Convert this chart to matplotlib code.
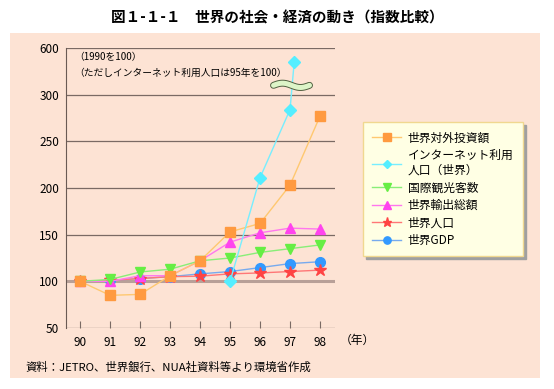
import numpy as np
import matplotlib.pyplot as plt
from matplotlib.patches import Rectangle

plt.rcParams['font.family'] = ['Noto Sans CJK JP', 'DejaVu Sans']

# 年と各系列（1990年=100、インターネットは95年=100）
years = np.array([90, 91, 92, 93, 94, 95, 96, 97, 98])
toushi = np.array([100, 85, 86, 106, 122, 153, 162, 203, 277])
net_years = np.array([95, 96, 97, 97.14])
net = np.array([100, 211, 284, 510])
kanko = np.array([100, 102, 110, 113, 122, 125, 131, 135, 139])
yushutsu = np.array([100, 100, 106, 106, 122, 142, 152, 157, 156])
jinko = np.array([100, 101, 103, 105, 105.5, 108, 109, 110.5, 112])
gdp = np.array([100, 101, 103, 105, 108, 110.5, 114.7, 119, 121])

ytick_vals = [50, 100, 150, 200, 250, 300, 600]
xtick_labels = ['90', '91', '92', '93', '94', '95', '96', '97', '98']


def squash(v):
    # 300を超える部分は圧縮（300→300, 600→350）
    v = np.asarray(v, dtype=float)
    return np.where(v <= 300, v, 300 + (v - 300) * 50 / 300)


fig = plt.figure(figsize=(5.54, 3.89), dpi=100)
fig.patch.set_facecolor('white')
fig.patches.append(Rectangle((10 / 554, 1 - 378 / 389), 530 / 554, 345 / 389,
                             transform=fig.transFigure, facecolor='#FDE3D4',
                             edgecolor='none', zorder=-5))

ax = fig.add_axes([66 / 554, 1 - 328 / 389, 269 / 554, 280 / 389])
ax.set_facecolor('none')

for v in ytick_vals:
    if v == 100:
        ax.axhline(squash(v), color='#B8A098', lw=2.2, zorder=1)
    else:
        ax.axhline(squash(v), color='#7A6A64', lw=0.9, zorder=1)

series = [
    (years, toushi, '世界対外投資額', 's', '#FF9A40', '#FFC870', 7),
    (net_years, net, 'インターネット利用\n人口（世界）', 'D', '#55EEFF', '#77EEFF', 6),
    (years, kanko, '国際観光客数', 'v', '#66EE44', '#88EE77', 7),
    (years, yushutsu, '世界輸出総額', '^', '#FF44EE', '#FF77EE', 7),
    (years, jinko, '世界人口', '*', '#FF4444', '#FF7777', 9),
    (years, gdp, '世界GDP', 'o', '#3399FF', '#77AAEE', 7),
]
zorders = [3.5, 3.6, 3.3, 3.2, 3.1, 3.0]
handles = []
for i, (xs, ys, lab, mk, mc, lc, ms) in enumerate(series):
    ln, = ax.plot(xs, squash(ys), color=lc, lw=1.0, marker=mk, ms=ms,
                  mfc=mc, mec=mc, label=lab, zorder=zorders[i])
    handles.append(ln)

# 波線（省略記号）
wx = np.linspace(96.45, 97.65, 100)
wy = 310 + 2.3 * np.sin((wx - 96.45) / 1.2 * 2 * np.pi)
ax.plot(wx, wy, color='#506040', lw=5, solid_capstyle='round', zorder=4)
ax.plot(wx, wy, color='#DDF5C8', lw=3.6, solid_capstyle='round', zorder=4.1)

ax.set_xlim(89.53, 98.5)
ax.set_ylim(50, 350)
ax.set_xticks(years)
ax.set_xticklabels(xtick_labels)
ax.set_yticks(squash(ytick_vals))
ax.set_yticklabels([str(v) for v in ytick_vals])
ax.tick_params(axis='x', direction='in', length=5, color='#7A6A64',
               labelsize=8.5, pad=6)
ax.tick_params(axis='y', length=0, labelsize=8.5, pad=5)
for s in ['top', 'right', 'bottom']:
    ax.spines[s].set_visible(False)
ax.spines['left'].set_color('#6A5A54')

ax.text(89.8, 340.5, '（1990を100）', fontsize=7, va='center')
ax.text(89.8, 323.5, '（ただしインターネット利用人口は95年を100）', fontsize=7,
        va='center')

fig.text(340 / 554, 1 - 340 / 389, '（年）', fontsize=8.5, va='center')

leg = ax.legend(handles, [s[2] for s in series],
                loc='upper left', bbox_to_anchor=(363 / 554, 1 - 122 / 389),
                bbox_transform=fig.transFigure, fontsize=8.5, frameon=True,
                fancybox=False, shadow={'color': '#A0A0A0', 'alpha': 1},
                handlelength=2.4, handletextpad=0.6, labelspacing=0.38,
                borderpad=0.8, borderaxespad=0, markerscale=0.75)
leg.get_frame().set_facecolor('#FFFFE4')
leg.get_frame().set_edgecolor('#F0D890')
leg.get_frame().set_alpha(1)

fig.text(0.5, 1 - 17 / 389, '図１-１-１　世界の社会・経済の動き（指数比較）',
         ha='center', va='center', fontsize=10.5, fontweight='bold')
fig.text(25 / 554, 1 - 367 / 389, '資料：JETRO、世界銀行、NUA社資料等より環境省作成',
         fontsize=8.2, va='center')

fig.savefig('out.png', dpi=100)
